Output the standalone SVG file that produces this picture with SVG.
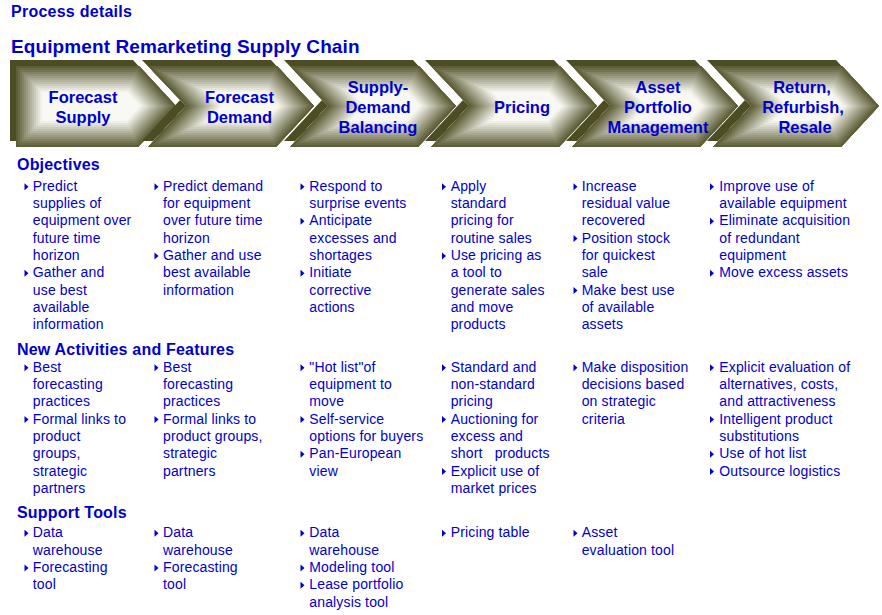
<svg xmlns="http://www.w3.org/2000/svg" xmlns:xlink="http://www.w3.org/1999/xlink" width="882" height="615" viewBox="0 0 882 615">
<style>
.t{font-family:"Liberation Sans",Arial,sans-serif;fill:#0000cc}
.h0{font-size:16px;font-weight:bold;letter-spacing:0.25px}
.h1{font-size:19px;font-weight:bold;letter-spacing:0.1px}
.sec{font-size:16px;font-weight:bold;letter-spacing:0.2px}
.cl{font-size:16.5px;font-weight:bold;text-anchor:middle}
.b{font-size:14px;letter-spacing:0.15px}
.pre{white-space:pre}
.back{fill:#4d4d24}
.band{fill:none;stroke-linejoin:miter}
.c{fill:#f8f8f4}
.k12{stroke:#f0f0e8;stroke-width:52px}
.k11{stroke:#e4e4d9;stroke-width:48px}
.k10{stroke:#d8d8cb;stroke-width:44px}
.k9{stroke:#ccccbc;stroke-width:40px}
.k8{stroke:#bfbfad;stroke-width:36px}
.k7{stroke:#b3b39f;stroke-width:32px}
.k6{stroke:#a7a790;stroke-width:28px}
.k5{stroke:#9b9b81;stroke-width:24px}
.k4{stroke:#8f8f73;stroke-width:20px}
.k3{stroke:#838364;stroke-width:16px}
.k2{stroke:#767655;stroke-width:12px}
.k1{stroke:#6a6a47;stroke-width:8px}
.k0{stroke:#5e5e38;stroke-width:4px}
.bul{fill:#0000cc}
</style>
<defs>
<path id="fn" d="M6,66 H135 L172,106 L134,147 H6 L44,106 Z"/>
<path id="ff" d="M12,66 H135 L172,106 L134,147 H12 Z"/>
<clipPath id="cn"><use href="#fn"/></clipPath>
<clipPath id="cf"><use href="#ff"/></clipPath>
<path id="b" d="M0,-3.5 L4,0 L0,3.5 Z"/>
<g id="chevN">
<use href="#fn" class="back" transform="translate(-6,-6)"/>
<use href="#fn" class="c"/>
<g clip-path="url(#cn)">
<use href="#fn" class="band k12"/><use href="#fn" class="band k11"/><use href="#fn" class="band k10"/><use href="#fn" class="band k9"/><use href="#fn" class="band k8"/><use href="#fn" class="band k7"/><use href="#fn" class="band k6"/><use href="#fn" class="band k5"/><use href="#fn" class="band k4"/><use href="#fn" class="band k3"/><use href="#fn" class="band k2"/><use href="#fn" class="band k1"/><use href="#fn" class="band k0"/>
</g>
</g>
<g id="chevF">
<use href="#ff" class="back" transform="translate(-6,-6)"/>
<use href="#ff" class="c"/>
<g clip-path="url(#cf)">
<use href="#ff" class="band k12"/><use href="#ff" class="band k11"/><use href="#ff" class="band k10"/><use href="#ff" class="band k9"/><use href="#ff" class="band k8"/><use href="#ff" class="band k7"/><use href="#ff" class="band k6"/><use href="#ff" class="band k5"/><use href="#ff" class="band k4"/><use href="#ff" class="band k3"/><use href="#ff" class="band k2"/><use href="#ff" class="band k1"/><use href="#ff" class="band k0"/>
</g>
</g>
</defs>
<rect width="882" height="615" fill="#ffffff"/>
<text class="t h0" x="11" y="16.7">Process details</text>
<text class="t h1" x="11" y="53.3">Equipment Remarketing Supply Chain</text>

<g id="step-forecast-supply">
<use href="#chevF" x="4" y="0"/>
<text class="t cl" x="83" y="103">Forecast</text>
<text class="t cl" x="83" y="123">Supply</text>
</g>
<g id="step-forecast-demand">
<use href="#chevN" x="142" y="0"/>
<text class="t cl" x="239.5" y="103">Forecast</text>
<text class="t cl" x="239.5" y="123">Demand</text>
</g>
<g id="step-supply-demand-balancing">
<use href="#chevN" x="284" y="0"/>
<text class="t cl" x="378" y="93">Supply-</text>
<text class="t cl" x="378" y="113">Demand</text>
<text class="t cl" x="378" y="133">Balancing</text>
</g>
<g id="step-pricing">
<use href="#chevN" x="425" y="0"/>
<text class="t cl" x="522" y="113">Pricing</text>
</g>
<g id="step-asset-portfolio">
<use href="#chevN" x="566" y="0"/>
<text class="t cl" x="658" y="93">Asset</text>
<text class="t cl" x="658" y="113">Portfolio</text>
<text class="t cl" x="658" y="133">Management</text>
</g>
<g id="step-return-refurbish-resale">
<use href="#chevN" x="707" y="0"/>
<text class="t cl" x="802" y="93">Return,</text>
<text class="t cl" x="803" y="113">Refurbish,</text>
<text class="t cl" x="805" y="133">Resale</text>
</g>

<g id="section-headings">
<text class="t sec" x="17" y="170">Objectives</text>
<text class="t sec" x="17" y="355">New Activities and Features</text>
<text class="t sec" x="17" y="518.3">Support Tools</text>
</g>

<g id="objectives">
<g id="obj-col1">
<use href="#b" class="bul" x="24.5" y="186.7"/><use href="#b" class="bul" x="24.5" y="273.2"/>
<text class="t b"><tspan x="32.8" y="190.7">Predict</tspan><tspan x="32.8" y="208">supplies of</tspan><tspan x="32.8" y="225.3">equipment over</tspan><tspan x="32.8" y="242.6">future time</tspan><tspan x="32.8" y="259.9">horizon</tspan><tspan x="32.8" y="277.2">Gather and</tspan><tspan x="32.8" y="294.5">use best</tspan><tspan x="32.8" y="311.8">available</tspan><tspan x="32.8" y="329.1">information</tspan></text>
</g>
<g id="obj-col2">
<use href="#b" class="bul" x="154.5" y="186.7"/><use href="#b" class="bul" x="154.5" y="255.9"/>
<text class="t b"><tspan x="163" y="190.7">Predict demand</tspan><tspan x="163" y="208">for equipment</tspan><tspan x="163" y="225.3">over future time</tspan><tspan x="163" y="242.6">horizon</tspan><tspan x="163" y="259.9">Gather and use</tspan><tspan x="163" y="277.2">best available</tspan><tspan x="163" y="294.5">information</tspan></text>
</g>
<g id="obj-col3">
<use href="#b" class="bul" x="300.5" y="186.7"/><use href="#b" class="bul" x="300.5" y="221.3"/><use href="#b" class="bul" x="300.5" y="273.2"/>
<text class="t b"><tspan x="309.3" y="190.7">Respond to</tspan><tspan x="309.3" y="208">surprise events</tspan><tspan x="309.3" y="225.3">Anticipate</tspan><tspan x="309.3" y="242.6">excesses and</tspan><tspan x="309.3" y="259.9">shortages</tspan><tspan x="309.3" y="277.2">Initiate</tspan><tspan x="309.3" y="294.5">corrective</tspan><tspan x="309.3" y="311.8">actions</tspan></text>
</g>
<g id="obj-col4">
<use href="#b" class="bul" x="442" y="186.7"/><use href="#b" class="bul" x="442" y="255.9"/>
<text class="t b"><tspan x="450.7" y="190.7">Apply</tspan><tspan x="450.7" y="208">standard</tspan><tspan x="450.7" y="225.3">pricing for</tspan><tspan x="450.7" y="242.6">routine sales</tspan><tspan x="450.7" y="259.9">Use pricing as</tspan><tspan x="450.7" y="277.2">a tool to</tspan><tspan x="450.7" y="294.5">generate sales</tspan><tspan x="450.7" y="311.8">and move</tspan><tspan x="450.7" y="329.1">products</tspan></text>
</g>
<g id="obj-col5">
<use href="#b" class="bul" x="573.5" y="186.7"/><use href="#b" class="bul" x="573.5" y="238.6"/><use href="#b" class="bul" x="573.5" y="290.5"/>
<text class="t b"><tspan x="581.7" y="190.7">Increase</tspan><tspan x="581.7" y="208">residual value</tspan><tspan x="581.7" y="225.3">recovered</tspan><tspan x="581.7" y="242.6">Position stock</tspan><tspan x="581.7" y="259.9">for quickest</tspan><tspan x="581.7" y="277.2">sale</tspan><tspan x="581.7" y="294.5">Make best use</tspan><tspan x="581.7" y="311.8">of available</tspan><tspan x="581.7" y="329.1">assets</tspan></text>
</g>
<g id="obj-col6">
<use href="#b" class="bul" x="710" y="186.7"/><use href="#b" class="bul" x="710" y="221.3"/><use href="#b" class="bul" x="710" y="273.2"/>
<text class="t b"><tspan x="719.3" y="190.7">Improve use of</tspan><tspan x="719.3" y="208">available equipment</tspan><tspan x="719.3" y="225.3">Eliminate acquisition</tspan><tspan x="719.3" y="242.6">of redundant</tspan><tspan x="719.3" y="259.9">equipment</tspan><tspan x="719.3" y="277.2">Move excess assets</tspan></text>
</g>
</g>

<g id="new-activities">
<g id="act-col1">
<use href="#b" class="bul" x="24.5" y="367.7"/><use href="#b" class="bul" x="24.5" y="419.6"/>
<text class="t b"><tspan x="32.8" y="371.7">Best</tspan><tspan x="32.8" y="389">forecasting</tspan><tspan x="32.8" y="406.3">practices</tspan><tspan x="32.8" y="423.6">Formal links to</tspan><tspan x="32.8" y="440.9">product</tspan><tspan x="32.8" y="458.2">groups,</tspan><tspan x="32.8" y="475.5">strategic</tspan><tspan x="32.8" y="492.8">partners</tspan></text>
</g>
<g id="act-col2">
<use href="#b" class="bul" x="154.5" y="367.7"/><use href="#b" class="bul" x="154.5" y="419.6"/>
<text class="t b"><tspan x="163" y="371.7">Best</tspan><tspan x="163" y="389">forecasting</tspan><tspan x="163" y="406.3">practices</tspan><tspan x="163" y="423.6">Formal links to</tspan><tspan x="163" y="440.9">product groups,</tspan><tspan x="163" y="458.2">strategic</tspan><tspan x="163" y="475.5">partners</tspan></text>
</g>
<g id="act-col3">
<use href="#b" class="bul" x="300.5" y="367.7"/><use href="#b" class="bul" x="300.5" y="419.6"/><use href="#b" class="bul" x="300.5" y="454.2"/>
<text class="t b"><tspan x="309.3" y="371.7">"Hot list"of</tspan><tspan x="309.3" y="389">equipment to</tspan><tspan x="309.3" y="406.3">move</tspan><tspan x="309.3" y="423.6">Self-service</tspan><tspan x="309.3" y="440.9">options for buyers</tspan><tspan x="309.3" y="458.2">Pan-European</tspan><tspan x="309.3" y="475.5">view</tspan></text>
</g>
<g id="act-col4">
<use href="#b" class="bul" x="442" y="367.7"/><use href="#b" class="bul" x="442" y="419.6"/><use href="#b" class="bul" x="442" y="471.5"/>
<text class="t b pre"><tspan x="450.7" y="371.7">Standard and</tspan><tspan x="450.7" y="389">non-standard</tspan><tspan x="450.7" y="406.3">pricing</tspan><tspan x="450.7" y="423.6">Auctioning for</tspan><tspan x="450.7" y="440.9">excess and</tspan><tspan x="450.7" y="458.2">short   products</tspan><tspan x="450.7" y="475.5">Explicit use of</tspan><tspan x="450.7" y="492.8">market prices</tspan></text>
</g>
<g id="act-col5">
<use href="#b" class="bul" x="573.5" y="367.7"/>
<text class="t b"><tspan x="581.7" y="371.7">Make disposition</tspan><tspan x="581.7" y="389">decisions based</tspan><tspan x="581.7" y="406.3">on strategic</tspan><tspan x="581.7" y="423.6">criteria</tspan></text>
</g>
<g id="act-col6">
<use href="#b" class="bul" x="710" y="367.7"/><use href="#b" class="bul" x="710" y="419.6"/><use href="#b" class="bul" x="710" y="454.2"/><use href="#b" class="bul" x="710" y="471.5"/>
<text class="t b"><tspan x="719.3" y="371.7">Explicit evaluation of</tspan><tspan x="719.3" y="389">alternatives, costs,</tspan><tspan x="719.3" y="406.3">and attractiveness</tspan><tspan x="719.3" y="423.6">Intelligent product</tspan><tspan x="719.3" y="440.9">substitutions</tspan><tspan x="719.3" y="458.2">Use of hot list</tspan><tspan x="719.3" y="475.5">Outsource logistics</tspan></text>
</g>
</g>

<g id="support-tools">
<g id="tool-col1">
<use href="#b" class="bul" x="24.5" y="533.3"/><use href="#b" class="bul" x="24.5" y="567.9"/>
<text class="t b"><tspan x="32.8" y="537.3">Data</tspan><tspan x="32.8" y="554.6">warehouse</tspan><tspan x="32.8" y="571.9">Forecasting</tspan><tspan x="32.8" y="589.2">tool</tspan></text>
</g>
<g id="tool-col2">
<use href="#b" class="bul" x="154.5" y="533.3"/><use href="#b" class="bul" x="154.5" y="567.9"/>
<text class="t b"><tspan x="163" y="537.3">Data</tspan><tspan x="163" y="554.6">warehouse</tspan><tspan x="163" y="571.9">Forecasting</tspan><tspan x="163" y="589.2">tool</tspan></text>
</g>
<g id="tool-col3">
<use href="#b" class="bul" x="300.5" y="533.3"/><use href="#b" class="bul" x="300.5" y="567.9"/><use href="#b" class="bul" x="300.5" y="585.2"/>
<text class="t b"><tspan x="309.3" y="537.3">Data</tspan><tspan x="309.3" y="554.6">warehouse</tspan><tspan x="309.3" y="571.9">Modeling tool</tspan><tspan x="309.3" y="589.2">Lease portfolio</tspan><tspan x="309.3" y="606.5">analysis tool</tspan></text>
</g>
<g id="tool-col4">
<use href="#b" class="bul" x="442" y="533.3"/>
<text class="t b"><tspan x="450.7" y="537.3">Pricing table</tspan></text>
</g>
<g id="tool-col5">
<use href="#b" class="bul" x="573.5" y="533.3"/>
<text class="t b"><tspan x="581.7" y="537.3">Asset</tspan><tspan x="581.7" y="554.6">evaluation tool</tspan></text>
</g>
</g>
</svg>
